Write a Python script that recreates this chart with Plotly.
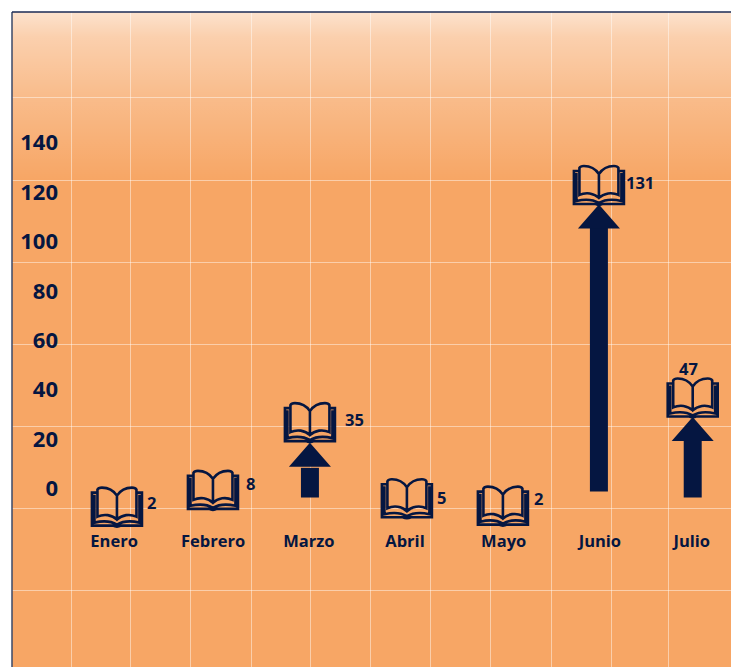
import plotly.graph_objects as go

MONTHS = ["Enero", "Febrero", "Marzo", "Abril", "Mayo", "Junio", "Julio"]
VALUES = [2, 8, 35, 5, 2, 131, 47]
POSITIONS = [0, 0.998, 2.006, 3.014, 4.012, 5.01, 5.985]
TICK_POSITIONS = [-0.03, 1, 1.995, 2.994, 4.02, 5.02, 5.975]
BOOK_TOPS = [0.8, 7.6, 35, 4.2, 1.2, 131, 45]
LABEL_OFFSETS = [(35, -19), (38, -15), (45, -17), (35, -21), (36, -15), (41, -18), (-4, 4)]
ARROW_MONTHS = ["Marzo", "Junio", "Julio"]
ARROW_BASE = [-3.6, -1.2, -3.6]
ARROW_SHAFT_TOP = [8.4, 106, 19.8]
ARROW_TIP = [18.6, 115, 29]
Y_TICKS = [0, 20, 40, 60, 80, 100, 120, 140]
GRID_X = [-0.472, 0.141, 0.765, 1.399, 2.012, 2.636, 3.26, 3.883, 4.517, 5.141, 5.734]
GRID_Y = [158.4, 124.85, 91.7, 58.5, 25.3, -7.9, -41.1]
X_RANGE = [-1.091, 6.383]
Y_RANGE = [-72.2, 192.9]
GRADIENT_FLOOR = 125

NAVY = "#051641"
FONT = "Open Sans"
BOOK = (
    "M0,-9 C-4,-3 -10,-1 -15,-1 C-17,-1 -19,-2 -19.5,-3 L-19.5,-30 C-13,-27 -5,-28 0,-33 "
    "C5,-28 13,-27 19.5,-30 L19.5,-3 C19,-2 17,-1 15,-1 C10,-1 4,-3 0,-9 Z "
    "M0,-9 L0,-33 "
    "M-19.5,-6 L-25,-6 L-25,-39 L-4,-39 Q0,-41 4,-39 L25,-39 L25,-6 L19.5,-6 "
    "M-22.5,-8 L-22.5,-36 C-14,-34 -5,-35 0,-38 C5,-35 14,-34 22.5,-36 L22.5,-8"
)
HEAD = "M-21,-24 L0,0 L21,-24 Z"

fig = go.Figure()

# Washed-out band at the top of the plot area
fig.add_trace(go.Scatter(
    x=[X_RANGE[0], X_RANGE[1], X_RANGE[1], X_RANGE[0], X_RANGE[0]],
    y=[GRADIENT_FLOOR, GRADIENT_FLOOR, Y_RANGE[1], Y_RANGE[1], GRADIENT_FLOOR],
    mode="none", fill="toself", hoverinfo="skip", showlegend=False,
    fillgradient=dict(type="vertical", colorscale=[
        [0, "rgba(255,255,255,0)"],
        [0.5, "rgba(255,255,255,0.25)"],
        [0.85, "rgba(255,255,255,0.47)"],
        [1, "rgba(255,255,255,0.68)"],
    ]),
))

# Arrow shafts
arrow_x = [POSITIONS[MONTHS.index(m)] for m in ARROW_MONTHS]
fig.add_trace(go.Bar(
    x=arrow_x,
    y=[t - b for t, b in zip(ARROW_SHAFT_TOP, ARROW_BASE)],
    base=ARROW_BASE,
    width=0.187,
    marker=dict(color=NAVY, line=dict(width=0)),
    showlegend=False,
))

shapes = []
for x, tip in zip(arrow_x, ARROW_TIP):
    shapes.append(dict(type="path", xsizemode="pixel", ysizemode="pixel", xanchor=x, yanchor=tip,
                       xref="x", yref="y", path=HEAD, fillcolor=NAVY, line=dict(width=0)))
for x, top in zip(POSITIONS, BOOK_TOPS):
    shapes.append(dict(type="path", xsizemode="pixel", ysizemode="pixel", xanchor=x, yanchor=top,
                       xref="x", yref="y", path=BOOK, fillcolor="rgba(0,0,0,0)",
                       line=dict(color=NAVY, width=2.6)))
# Frame: left and top rules
shapes.append(dict(type="line", xref="paper", yref="paper", x0=0, x1=0, y0=0, y1=1,
                   line=dict(color="#3A4868", width=1.5)))
shapes.append(dict(type="line", xref="paper", yref="paper", x0=0, x1=1, y0=1, y1=1,
                   line=dict(color="#1A2A55", width=1.5)))

annotations = [
    dict(x=x, y=v, text=str(v), xref="x", yref="y", showarrow=False,
         xshift=dx, yshift=dy, xanchor="center", yanchor="middle",
         font=dict(family=FONT, size=16.5, color=NAVY, weight=700))
    for x, v, (dx, dy) in zip(POSITIONS, VALUES, LABEL_OFFSETS)
]

fig.update_layout(
    width=731, height=667,
    margin=dict(l=12, r=0, t=12, b=0, pad=0),
    paper_bgcolor="white",
    plot_bgcolor="#F7A665",
    showlegend=False,
    shapes=shapes,
    annotations=annotations,
    xaxis=dict(
        range=X_RANGE, tickmode="array", tickvals=TICK_POSITIONS, ticktext=MONTHS,
        anchor="free", position=0.2105, showline=False, showgrid=False, zeroline=False, ticks="",
        tickfont=dict(family=FONT, size=16.5, color=NAVY, weight=700),
        minor=dict(tickmode="array", tickvals=GRID_X, showgrid=True,
                   gridcolor="rgba(255,255,255,0.45)", gridwidth=1.4, ticks=""),
    ),
    yaxis=dict(
        range=Y_RANGE, tickmode="array", tickvals=Y_TICKS,
        anchor="free", position=0.064, showline=False, showgrid=False, zeroline=False, ticks="",
        tickfont=dict(family=FONT, size=22, color=NAVY, weight=700),
        minor=dict(tickmode="array", tickvals=GRID_Y, showgrid=True,
                   gridcolor="rgba(255,255,255,0.45)", gridwidth=1.4, ticks=""),
    ),
)

fig.write_html(
    "out.html",
    config={"displayModeBar": False},
    post_script="document.body.style.margin='0';document.body.style.overflow='hidden';",
)
